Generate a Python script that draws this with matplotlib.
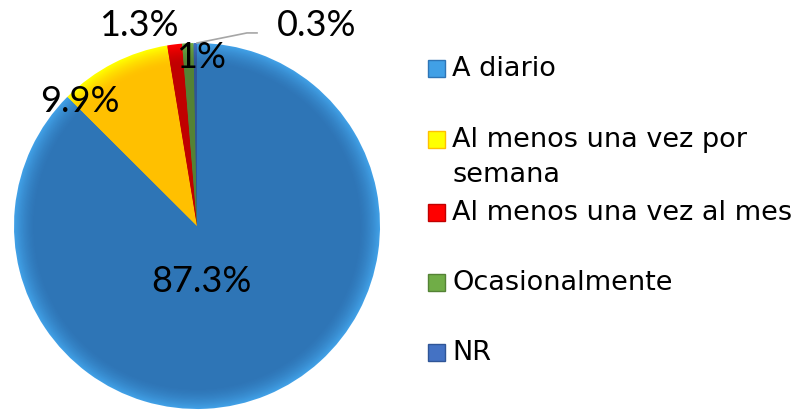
import matplotlib
matplotlib.use("Agg")
import matplotlib.pyplot as plt
import numpy as np
from matplotlib.colors import to_rgb
from matplotlib.patches import Rectangle

# Data
categories = ["A diario", "Al menos una vez por\nsemana", "Al menos una vez al mes",
              "Ocasionalmente", "NR"]
values = [87.3, 9.9, 1.3, 1.0, 0.3]
pct_labels = ["87.3%", "9.9%", "1.3%", "1%", "0.3%"]

# inner (dark) and edge (light) colours for the bevel look
inner_cols = ["#2E75B6", "#FFC000", "#C00000", "#548235", "#2F5597"]
edge_cols = ["#41A0E6", "#FFFF00", "#FF0000", "#70AD47", "#4472C4"]

plt.rcParams['font.family'] = ['Lato', 'DejaVu Sans']

fig = plt.figure(figsize=(8.07, 4.12), dpi=100)
ax = fig.add_axes([14 / 807, 3 / 412, 366 / 807, 366 / 412])


def mix(c1, c2, t):
    a, b = np.array(to_rgb(c1)), np.array(to_rgb(c2))
    return tuple(a * (1 - t) + b * t)


# gradient: light at the rim, darker towards the middle
steps = 20
dr = 0.006
for i in range(steps):
    r = 1.0 - i * dr
    t = 1 - i / (steps - 1)
    cols = [mix(ci, ce, t ** 1.6) for ci, ce in zip(inner_cols, edge_cols)]
    ax.pie(values, colors=cols, startangle=90, counterclock=False, radius=r,
           wedgeprops=dict(linewidth=0))
ax.pie(values, colors=inner_cols, startangle=90, counterclock=False,
       radius=1 - steps * dr, wedgeprops=dict(linewidth=0))

ax.set_xlim(-1, 1)
ax.set_ylim(-1, 1)
ax.set_aspect('equal')
ax.axis('off')

# data labels (positions in pie coordinates)
label_pos = [(0.022, -0.306), (-0.639, 0.683), (-0.317, 1.098), (0.022, 0.923), (0.656, 1.098)]
for txt, (x, y) in zip(pct_labels, label_pos):
    ax.text(x, y, txt, ha='center', va='center', fontsize=26, color='black', clip_on=False)

# leader line for NR
ax.plot([0.0, 0.273, 0.328], [1.0, 1.055, 1.055], color='#A6A6A6', lw=1.2, clip_on=False)

# legend
legend_y = [69, 140, 213, 283, 353]
for lab, col, ecol, y in zip(categories, inner_cols, edge_cols, legend_y):
    fig.patches.append(Rectangle((428 / 807, 1 - (y + 8) / 412), 17 / 807, 17 / 412,
                                 transform=fig.transFigure, facecolor=ecol,
                                 edgecolor=col, lw=1.0))
    for k, line in enumerate(lab.split('\n')):
        fig.text(452 / 807, 1 - (y + 35 * k) / 412, line, ha='left', va='center',
                 fontsize=19.5, color='black', family='DejaVu Sans')

fig.savefig("out.png", dpi=100)
